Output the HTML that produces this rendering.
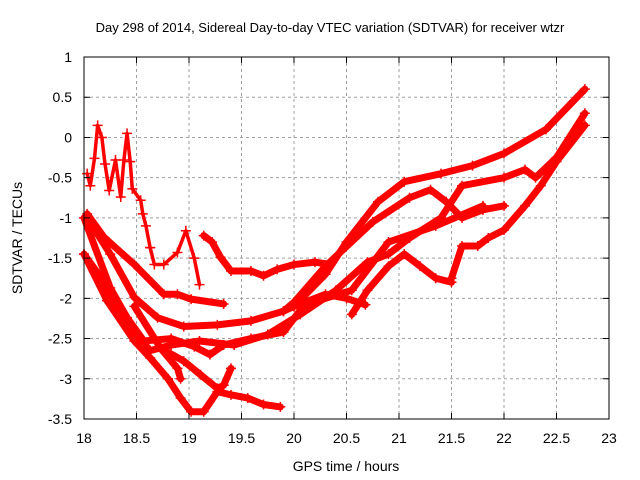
<!DOCTYPE html>
<html><head><meta charset="utf-8"><style>
body{margin:0;background:#fff}
svg{display:block;font-family:"Liberation Sans",sans-serif}
</style></head><body>
<svg id="chart" width="640" height="480" viewBox="0 0 640 480">
<rect x="0" y="0" width="640" height="480" fill="#fff"/>
<text x="330" y="32" text-anchor="middle" font-size="13">Day 298 of 2014, Sidereal Day-to-day VTEC variation (SDTVAR) for receiver wtzr</text>
<g id="grid"></g>
<g id="series"></g>
<g id="axes"></g>
<text x="22" y="238" transform="rotate(-90 22 238)" text-anchor="middle" font-size="14">SDTVAR / TECUs</text>
<text x="346" y="471" text-anchor="middle" font-size="14">GPS time / hours</text>
</svg>
<script>
const xTicks=[18,18.5,19,19.5,20,20.5,21,21.5,22,22.5,23];
const yTicks=[1,0.5,0,-0.5,-1,-1.5,-2,-2.5,-3,-3.5];
const s1=[[19.9,-2.16],[20.0,-2.1],[20.3,-1.7],[20.5,-1.3],[20.8,-0.8],[21.05,-0.55],[21.4,-0.45],[21.7,-0.35],[22.0,-0.2],[22.4,0.1],[22.77,0.6]];
const s2=[[18.03,-1.0],[18.25,-1.45],[18.48,-1.99],[18.7,-2.24],[18.95,-2.35],[19.27,-2.33],[19.59,-2.28],[19.9,-2.16],[20.0,-2.05],[20.3,-1.6],[20.75,-1.05],[21.1,-0.75],[21.3,-0.65],[21.45,-0.8],[21.6,-1.0],[21.8,-0.9],[22.0,-0.85]];
const s3=[[18.0,-1.45],[18.16,-1.74],[18.32,-2.1],[18.5,-2.45],[18.63,-2.65],[18.83,-2.58],[19.1,-2.53],[19.43,-2.58],[19.75,-2.45],[20.06,-2.2],[20.4,-1.9],[20.7,-1.55],[20.9,-1.45],[21.1,-1.25],[21.4,-1.0],[21.6,-0.6],[22.0,-0.5],[22.2,-0.4],[22.3,-0.5],[22.5,-0.25],[22.77,0.3]];
const s4=[[18.0,-1.45],[18.22,-2.03],[18.48,-2.53],[18.63,-2.74],[18.8,-3.0],[18.92,-3.24],[19.02,-3.41],[19.14,-3.41],[19.27,-3.16],[19.4,-3.2],[19.56,-3.24],[19.71,-3.32],[19.87,-3.35]];
const s5=[[18.48,-2.1],[18.73,-2.62],[18.95,-2.78],[19.11,-2.95],[19.27,-3.12],[19.33,-3.08],[19.4,-2.87]];
const s6=[[18.73,-2.62],[18.89,-2.87],[18.92,-3.0]];
const s7=[[18.03,-0.95],[18.19,-1.24],[18.48,-1.58],[18.76,-1.95],[18.89,-1.95],[19.02,-2.01],[19.33,-2.07]];
const s8=[[18.63,-1.37],[18.67,-1.58],[18.76,-1.58],[18.89,-1.43],[18.97,-1.16],[19.05,-1.5],[19.1,-1.83]];
const s8b=[[19.14,-1.22],[19.22,-1.3],[19.3,-1.49],[19.4,-1.66],[19.59,-1.66],[19.71,-1.72],[19.84,-1.64],[20.0,-1.58],[20.2,-1.55],[20.35,-1.58]];
const s9=[[18.03,-0.45],[18.06,-0.6],[18.1,-0.26],[18.13,0.15],[18.17,0.0],[18.2,-0.33],[18.24,-0.66],[18.3,-0.28],[18.35,-0.74],[18.38,-0.28],[18.41,0.05],[18.44,-0.3],[18.46,-0.64],[18.54,-0.78],[18.56,-0.95],[18.59,-1.1],[18.63,-1.37]];
const s10=[[20.55,-2.2],[20.7,-1.9],[20.9,-1.6],[21.05,-1.45],[21.2,-1.6],[21.35,-1.75],[21.5,-1.8]];
const s11=[[21.5,-1.75],[21.6,-1.35],[21.75,-1.35],[21.85,-1.25],[22.0,-1.15],[22.2,-0.85],[22.35,-0.6],[22.5,-0.3],[22.77,0.15]];
const s12=[[18.0,-1.0],[18.25,-1.87],[18.41,-2.24],[18.57,-2.53],[18.83,-2.5],[19.05,-2.6],[19.2,-2.7],[19.33,-2.58],[19.59,-2.5],[19.9,-2.42],[20.1,-2.08],[20.55,-1.9],[20.9,-1.3],[21.35,-1.1],[21.8,-0.85]];
const s13=[[20.0,-2.1],[20.3,-1.95],[20.5,-2.0],[20.68,-2.08]];
const allSeries=[s1,s2,s3,s4,s5,s6,s7,s8,s8b,s9,s10,s11,s12,s13];
const X0=84,X1=609,Y0=57,Y1=419;
function sx(v){return X0+(v-18)/(23-18)*(X1-X0);}
function sy(v){return Y0+(1-v)/(1-(-3.5))*(Y1-Y0);}
const NS="http://www.w3.org/2000/svg";
const grid=document.getElementById('grid'),axes=document.getElementById('axes'),ser=document.getElementById('series');
function mk(tag,attrs,parent){const e=document.createElementNS(NS,tag);for(const k in attrs)e.setAttribute(k,attrs[k]);parent.appendChild(e);return e;}
xTicks.forEach((t,i)=>{const x=sx(t);
 if(i>0&&i<xTicks.length-1){const g=mk('line',{x1:x,y1:Y0,x2:x,y2:Y1,stroke:'#a0a0a0','stroke-dasharray':'3,3','stroke-width':1},grid);
 
 }
 const tk=mk('path',{d:`M${x},${Y1}v-6M${x},${Y0}v6`,stroke:'#000','stroke-width':1},axes);
 
 
 const l=mk('text',{x:x,y:443,'text-anchor':'middle','font-size':14},axes);l.textContent=t;
 
 
});
yTicks.forEach((t,i)=>{const y=sy(t);
 if(i>0&&i<yTicks.length-1){const g=mk('line',{x1:X0,y1:y,x2:X1,y2:y,stroke:'#a0a0a0','stroke-dasharray':'3,3','stroke-width':1},grid);
 
 }
 const tk=mk('path',{d:`M${X0},${y}h6M${X1},${y}h-6`,stroke:'#000','stroke-width':1},axes);
 
 
 const l=mk('text',{x:72,y:y+5,'text-anchor':'end','font-size':14},axes);l.textContent=t;
 
 
});
const fr=mk('rect',{x:X0,y:Y0,width:X1-X0,height:Y1-Y0,fill:'none',stroke:'#000','stroke-width':1},axes);


allSeries.forEach((s,i)=>{
 const w=(s===s9||s===s8)?3.5:7;
 const pl=mk('polyline',{points:s.map(p=>sx(p[0])+','+sy(p[1])).join(' '),fill:'none',stroke:'#f00','stroke-width':w,'stroke-linejoin':'round','stroke-linecap':'round'},ser);
 
 
 s.forEach(p=>{const x=sx(p[0]),y=sy(p[1]);
  const m=mk('path',{d:`M${x-5},${y}h10M${x},${y-5}v10`,stroke:'#f00','stroke-width':1.5},ser);
  
  
 });
});
</script>
</body></html>
